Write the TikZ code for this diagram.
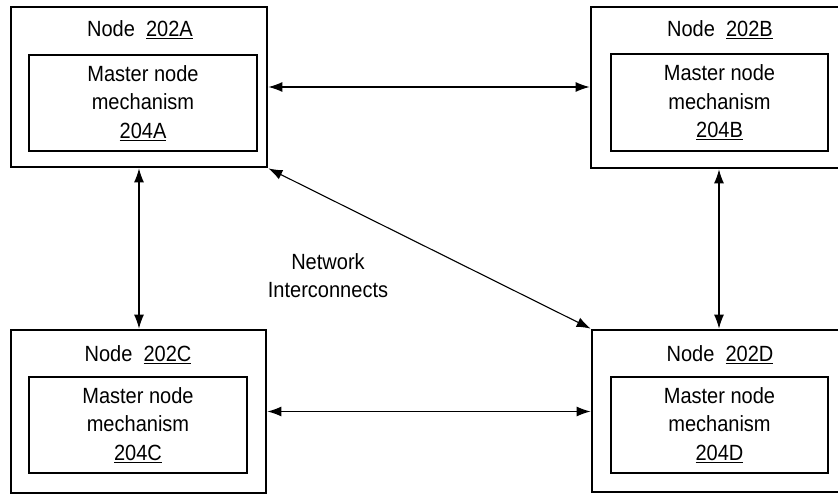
\documentclass[tikz,border=0pt]{standalone}
\usepackage{fontspec}
\setmainfont{Liberation Sans}[FakeStretch=0.91]
\usetikzlibrary{arrows.meta}
\tikzset{
  outerbox/.style={draw, line width=2.8pt, rectangle, inner sep=0pt},
  innerbox/.style={draw, line width=1.2pt, rectangle, inner sep=0pt, align=center, font=\fontsize{22}{28.5}\selectfont},
  title/.style={font=\fontsize{22}{24}\selectfont, inner sep=0pt},
  link/.style={line width=1.1pt, {Latex[length=14pt,width=10pt]}-{Latex[length=14pt,width=10pt]}},
  lbl/.style={align=center, font=\fontsize{22}{28}\selectfont, inner sep=0pt}
}
\begin{document}
\begin{tikzpicture}[x=1pt,y=-1pt]
\useasboundingbox (0,0) rectangle (838,494);
\clip (0,0) rectangle (838,494);
% outer boxes
\node[outerbox, minimum width=256pt, minimum height=160pt] (A) at (139,87) {};
\node[outerbox, minimum width=259pt, minimum height=161pt] (B) at (720.5,87.5) {};
\node[outerbox, minimum width=255pt, minimum height=163pt] (C) at (138.5,411.5) {};
\node[outerbox, minimum width=258pt, minimum height=162pt] (D) at (721,411) {};
% titles
\node[title] (tA) at (140,30) {Node\ \ \underline{202A}};
\node[title] (tB) at (720,30) {Node\ \ \underline{202B}};
\node[title] (tC) at (138,355) {Node\ \ \underline{202C}};
\node[title] (tD) at (720,355) {Node\ \ \underline{202D}};
% inner boxes
\node[innerbox, minimum width=228pt, minimum height=96pt] (iA) at (143,103) {Master node\\mechanism\\\underline{204A}};
\node[innerbox, minimum width=217pt, minimum height=97pt] (iB) at (719.5,102.5) {Master node\\mechanism\\\underline{204B}};
\node[innerbox, minimum width=218pt, minimum height=96pt] (iC) at (138,425) {Master node\\mechanism\\\underline{204C}};
\node[innerbox, minimum width=217pt, minimum height=96pt] (iD) at (719.5,425) {Master node\\mechanism\\\underline{204D}};
% label
\node[lbl] (net) at (328,276) {Network\\Interconnects};
% connectors
\draw[link] (A.east) -- (A.east -| B.west);
\draw[link] (C.east) -- (C.east -| D.west);
\draw[link] (A.south) -- (A.south |- C.north);
\draw[link] ([xshift=-1.5pt]B.south) -- ([xshift=-1.5pt]B.south |- D.north);
\draw[link] (A.south east) -- (D.north west);
\end{tikzpicture}
\end{document}
